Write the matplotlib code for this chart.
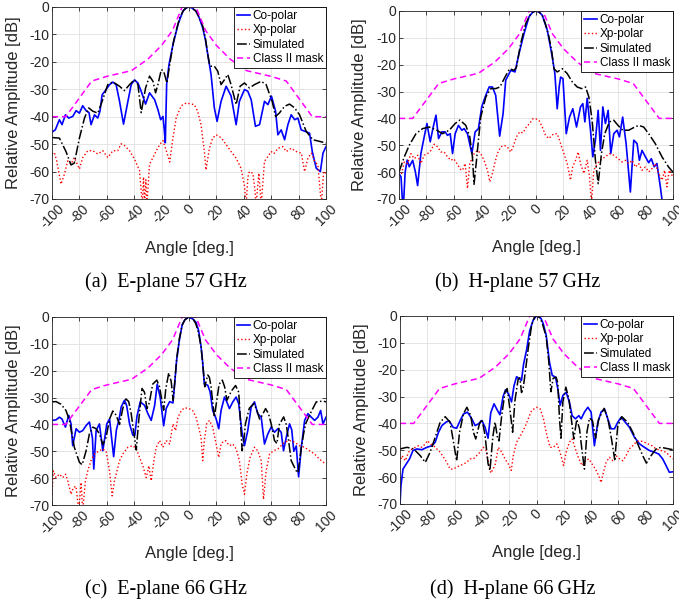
import matplotlib.pyplot as plt

plt.rcParams['font.family'] = ['Liberation Sans', 'DejaVu Sans']
plt.rcParams['axes.unicode_minus'] = False

x_ticks = list(range(-100, 101, 20))
y_ticks = list(range(-70, 1, 10))
series_names = ['Co-polar', 'Xp-polar', 'Simulated', 'Class II mask']
captions = ['(a)  E-plane 57\u2009GHz', '(b)  H-plane 57\u2009GHz',
            '(c)  E-plane 66\u2009GHz', '(d)  H-plane 66\u2009GHz']

# Class II radiation pattern envelope, identical for all cuts
mask_deg = [-100, -90, -71, -60, -42, -30, -20, -12, -5, 5, 12, 20, 30, 42, 60, 71, 90, 100]
mask_db = [-40, -40, -27, -25.3, -23.2, -19, -14, -8.5, 0, 0, -8.5, -14, -19, -23.2, -25.3, -27, -40, -40]

# (a) E-plane, 57 GHz  -- (angle deg, level dB)
e57_co = [(-100, -45.6), (-97.6, -44.8), (-94.6, -41.1), (-92.7, -42.9), (-90.2, -39.3), (-87.8, -40.5),
          (-84.9, -39.9), (-82.4, -37.8), (-80, -38.7), (-77.6, -36), (-75.1, -37.8), (-73, -38.5),
          (-71.5, -42.9), (-69, -39.3), (-66.6, -40.5), (-65, -38), (-63.4, -32), (-60.5, -30.1),
          (-58, -28.3), (-55.6, -27.4), (-53.2, -28.3), (-50.7, -34.4), (-47.8, -42.7), (-44.6, -34.4),
          (-42.2, -28.3), (-39.8, -26.6), (-37.3, -27.7), (-34.9, -30.7), (-31.7, -35.4), (-28.8, -31.3),
          (-25.1, -33.8), (-22.7, -37.4), (-20.7, -41.1), (-19, -39.9), (-18, -45), (-17.3, -49.5),
          (-16.3, -28), (-14.6, -21), (-13, -17), (-11.7, -13.7), (-10, -10.3), (-8, -6.3), (-6, -3.6),
          (-4.4, -1.5), (-2, -0.3), (0, 0), (2, -0.3), (5.1, -1.5), (7.5, -4), (10, -7.6), (12, -12),
          (13.7, -17.3), (16.1, -24.6), (18.5, -36.8), (20.5, -41.7), (23.4, -34.4), (27.1, -28.9),
          (30.7, -32.4), (34.4, -42.9), (36.8, -34.4), (40.5, -30.1), (42.9, -30.7), (45.4, -33.8),
          (48.5, -43.5), (51.5, -42.9), (55.1, -34.4), (57.6, -35.6), (60.2, -32.5), (63.2, -38),
          (64.9, -46.6), (67.3, -44.8), (69.8, -48.4), (72.2, -42.9), (74.6, -39.3), (77.1, -41.1),
          (79.5, -40.5), (81.9, -44.8), (85.1, -45.4), (88, -46), (90, -52.7), (92.9, -58.8),
          (95.9, -60), (97.8, -53.3), (100, -50.9)]
e57_xp = [(-100, -53.6), (-98.3, -53), (-96.6, -56.1), (-93.4, -64.6), (-91, -61), (-88.5, -56.1),
          (-86.1, -57.3), (-83.7, -54.9), (-80, -59.1), (-77.6, -54.9), (-73.9, -52.4), (-70.2, -52.4),
          (-66.6, -53.6), (-62.9, -52.4), (-59.3, -54.9), (-55.6, -52.4), (-52, -52.4), (-49.5, -49.9),
          (-47.1, -50.5), (-43.4, -52.4), (-39.8, -55.4), (-36.1, -59.7), (-34.1, -72), (-33.2, -62),
          (-32.4, -72), (-31.5, -63), (-30.7, -72), (-28.8, -57.3), (-26.3, -54.9), (-23.9, -52.4),
          (-21, -49.9), (-19, -48.7), (-16.6, -52.4), (-14.1, -56.5), (-11.7, -47.6), (-9.3, -40.3),
          (-5.6, -36), (-2, -35), (0, -35.2), (3.9, -35.6), (6.3, -38), (8.8, -42.9), (11.2, -52.7),
          (12.4, -59.4), (14.9, -51.5), (17.3, -47.8), (19.8, -46.6), (22.2, -47.2), (24.6, -48.4),
          (27.1, -50.2), (30.7, -52.7), (34.4, -55.1), (38, -58.8), (40.5, -65.4), (41.7, -72),
          (43, -62), (44.1, -60), (46.6, -60.6), (48, -66), (49, -72), (51, -60.6), (52.7, -72),
          (55.1, -56.3), (57.6, -54.5), (60, -52.7), (62, -53.5), (64.9, -51.5), (68.5, -50.9),
          (71, -52.7), (74.6, -51.5), (78.3, -52.7), (82, -53.3), (84.4, -60), (86.8, -55.1),
          (89.3, -53.3), (91.7, -56.3), (94.1, -57.6), (96.6, -72), (98.3, -60), (100, -60.6)]
e57_sim = [(-100, -47.6), (-94.6, -47.8), (-89.8, -52.7), (-86.1, -57.6), (-83.7, -56.9), (-80, -47.8),
           (-76.3, -40.5), (-73.2, -36.8), (-70.2, -38), (-66.6, -38.7), (-63.4, -34.4), (-59.3, -28.3),
           (-55.6, -27.3), (-50.7, -28.9), (-47.1, -30.5), (-43.4, -28.3), (-39.8, -26.5), (-37.3, -28.3),
           (-34.9, -38.5), (-31.7, -29.5), (-28.8, -25.2), (-26.3, -27.1), (-24.4, -31.3), (-22.7, -28.3),
           (-20.2, -22.8), (-18.5, -23.4), (-16.1, -27.7), (-14.1, -21), (-11.2, -12.4), (-9, -8),
           (-6.8, -3.9), (-4, -1.2), (-2, -0.3), (0, 0), (2, -0.3), (5.1, -1.5), (7.5, -3.8), (10, -6.9),
           (12, -11.5), (13.7, -17.3), (15, -21), (16.1, -21.6), (18.5, -21.6), (21, -23.4), (23.4, -28.3),
           (25.9, -26.5), (28.3, -24.6), (30.7, -28.3), (34.4, -35.6), (37.3, -28.9), (40.5, -27.7),
           (44.1, -29.5), (47.8, -28.3), (52.7, -27.1), (56.3, -28.3), (60.7, -34.4), (63.2, -39.9),
           (65.9, -38.7), (69.8, -36.2), (73.4, -35.4), (77.1, -36.8), (80.7, -39.3), (85.6, -45.4),
           (90.5, -48.4), (95.4, -49), (100, -49.6)]

# (b) H-plane, 57 GHz
h57_co = [(-100, -60.5), (-98.5, -61.8), (-97, -75), (-95.5, -60), (-94, -55.5), (-92.5, -58),
          (-90, -55.6), (-88, -60), (-86.4, -65), (-84, -53.1), (-81.6, -46.9), (-79.6, -41.9),
          (-77.2, -48.7), (-75, -43.2), (-73, -38.8), (-71.1, -47.5), (-68.7, -45), (-66.3, -45),
          (-64.6, -46.3), (-62.6, -45.7), (-60.9, -53.1), (-59, -45.7), (-56.6, -42.6), (-54.1, -44.4),
          (-52.4, -43.8), (-50, -45.7), (-46.8, -53.1), (-44.4, -45), (-42, -43.8), (-39.6, -35.7),
          (-37.1, -32), (-34.2, -28.3), (-31.8, -28.3), (-29.4, -31.4), (-26.5, -46.6), (-24, -38.2),
          (-22.1, -25.8), (-18.4, -22.1), (-15.3, -22.7), (-12.4, -15.9), (-8.7, -8.4), (-5.1, -2.2),
          (-2.5, -0.5), (0, 0), (2.3, -0.4), (4.6, -1.6), (8.3, -7.2), (11.9, -17.1), (13.8, -23.3),
          (15.5, -36.4), (17, -28), (18, -24.6), (19.7, -25.2), (22.1, -45.7), (24.5, -39.5),
          (26.9, -36.4), (29.6, -43.2), (32.5, -35.7), (34.2, -34.5), (35.7, -41.3), (37.4, -32.5),
          (39.8, -44.4), (41.5, -54.3), (43.4, -48.1), (45.4, -37), (47.1, -51.9), (48.8, -35.7),
          (50.7, -41.9), (52.7, -37), (54.6, -53.1), (56.8, -45.7), (59.2, -44.4), (60.9, -46.9),
          (63.3, -39.5), (65.8, -49.4), (68.9, -67.4), (71.4, -48.1), (73.8, -49.4), (75.5, -55.6),
          (77.4, -51.9), (79.9, -54.3), (82.3, -56.5), (84.2, -55), (86.3, -58), (88.3, -56.8),
          (90.8, -65.5), (93.2, -75)]
h57_xp = [(-100, -59.3), (-98.1, -60.5), (-96.1, -56.2), (-93.7, -56.8), (-91.3, -53.1), (-88.8, -55),
          (-86.4, -53.7), (-84, -56.8), (-81.6, -53.7), (-79.1, -53.1), (-76.7, -51.9), (-74.3, -49.6),
          (-71.8, -50.6), (-69.4, -52.5), (-67, -52.5), (-64.6, -54.3), (-62.1, -55.6), (-60, -55),
          (-57.5, -57), (-55, -59), (-53.6, -59.3), (-51.7, -56.8), (-50, -66.1), (-48.3, -56.8),
          (-45.1, -53.1), (-42.7, -51.9), (-40.3, -53.1), (-37.9, -55.6), (-35.4, -59.3), (-33.7, -63.6),
          (-31.8, -60.5), (-29.8, -56.2), (-28.2, -53.1), (-25.7, -50.6), (-23.3, -50), (-20.9, -50.6),
          (-18.4, -52.5), (-16.7, -50.6), (-14.3, -46.9), (-11.9, -45), (-9.5, -45.4), (-7, -43.2),
          (-4.6, -41.9), (-2.2, -40.1), (0, -40.2), (2.2, -40.7), (4.6, -43.2), (7, -46.3), (9.5, -47.5),
          (11.2, -46.5), (13.1, -45.7), (15.5, -45.7), (18, -49.4), (20.4, -53.1), (22.8, -56.8),
          (25.2, -63), (26.8, -58), (28.9, -55.6), (30.8, -52.5), (32.5, -56.8), (35, -60.5),
          (37.4, -55.6), (39.1, -61.8), (40.5, -72), (42.2, -59.3), (44.7, -56.8), (48.3, -55),
          (50.7, -54.3), (53.6, -53.1), (56.8, -53.7), (59.9, -55), (62.9, -56.2), (65.3, -55.6),
          (67.7, -56.8), (70.1, -55.6), (72.6, -58.1), (75, -56.8), (77.4, -59.3), (79.9, -58.1),
          (82.3, -59.9), (84.7, -58.7), (87.1, -56.8), (89.6, -60.5), (92, -63), (93.9, -59.3),
          (95.6, -65.5), (97.3, -59.3), (100, -61.8)]
h57_sim = [(-100, -59.9), (-96.1, -54.3), (-92.5, -50), (-87.6, -45.7), (-82.8, -43.8), (-77.9, -43.2),
           (-73, -44.2), (-68.2, -45.7), (-63.3, -44.4), (-59, -41.9), (-55.5, -40.6), (-51.2, -42.6),
           (-48.3, -46.9), (-46.4, -54.3), (-45.2, -64.5), (-43.5, -56), (-42, -48), (-40.3, -39.5),
           (-36.6, -32), (-33, -28.9), (-29.4, -28.9), (-26.3, -28.3), (-22.6, -24.6), (-19.2, -21.5),
           (-16, -22.1), (-14.3, -21), (-11.2, -12.2), (-7.5, -4.7), (-4, -1.2), (-2, -0.3), (0, 0),
           (2, -0.3), (4.6, -1.6), (7, -5), (9.5, -9.7), (11.5, -15), (13.1, -21.5), (15.5, -22.7),
           (19.2, -21.5), (22.8, -23.3), (26.5, -26.4), (30.1, -28.3), (33.3, -28.9), (36.2, -28.3),
           (38.6, -32), (41, -40.7), (43.4, -55.6), (45.4, -64.3), (47.8, -53.1), (50.2, -45.7),
           (53.6, -41.3), (56.8, -40.7), (59.9, -42.6), (63.3, -44.4), (67.7, -44.4), (71.4, -43.4),
           (75, -42.6), (78.6, -43.2), (82.3, -45.7), (87.1, -49.4), (92, -54.3), (96.8, -58.1),
           (100, -60)]

# (c) E-plane, 66 GHz
e66_co = [(-100, -38.5), (-97.1, -38.3), (-94.6, -37.3), (-92.7, -38), (-90.2, -41), (-87.8, -36.6),
          (-86.1, -39.8), (-84.9, -47.9), (-82.4, -41.6), (-80, -42.9), (-77.6, -42.3), (-75.1, -40.4),
          (-72.7, -39.1), (-70.5, -45), (-69.5, -56.6), (-67.8, -42.3), (-65.4, -39.8), (-62.9, -49.8),
          (-60, -39.8), (-58, -38), (-56.5, -45), (-55, -52), (-53, -42), (-51, -38), (-49.5, -33.5),
          (-47.1, -31), (-45.5, -33), (-43.4, -39.8), (-41, -44), (-39.5, -44), (-38, -37),
          (-35.6, -31.6), (-32.4, -32.9), (-30, -36), (-27.6, -38.5), (-25.1, -33), (-23.2, -25),
          (-21, -30), (-18.5, -40.5), (-16.6, -34), (-14.1, -31.5), (-11.7, -32), (-10.5, -25),
          (-9, -16), (-7, -8.5), (-5, -3), (-3, -1), (0, 0), (3, -0.8), (5.1, -2), (7, -5),
          (8.8, -11), (10, -17), (11.2, -25), (13.7, -25.4), (15.4, -27.9), (17.3, -34.8),
          (19.8, -37.9), (21.7, -41.6), (23.4, -34.8), (25.9, -29.8), (27.6, -31.6), (29.5, -34.1),
          (32, -31.6), (34.4, -29.8), (36.3, -32.3), (38.8, -43.5), (40.5, -47.9), (42.9, -42.3),
          (45.4, -33.5), (47.8, -31.6), (50.2, -36), (52.7, -37.3), (55.1, -47.3), (57.6, -43.5),
          (60, -41), (62.4, -42.9), (64.9, -41.6), (67.3, -42.9), (69, -49.8), (71, -44.8),
          (73.4, -39.8), (75, -42), (76.5, -50), (78.3, -48), (80, -59.5), (82, -48.5),
          (84.4, -38.5), (86.8, -36), (89.3, -37.3), (91.7, -38.5), (94.1, -37.3), (96.1, -34.8),
          (97.8, -39.8), (100, -37.3)]
e66_xp = [(-100, -66), (-99, -57.3), (-97.1, -59.8), (-94.6, -58.5), (-92.2, -59.8), (-90.2, -58.5),
          (-88.5, -61), (-86.1, -66), (-84.4, -63.5), (-82.5, -63), (-80.5, -72), (-78.8, -61.6),
          (-77.6, -72), (-75.6, -61), (-73.9, -57.3), (-71.5, -53.5), (-69, -51), (-65.4, -49.8),
          (-62.9, -49.1), (-60.5, -50), (-58, -57.3), (-56.1, -66.6), (-54.4, -61), (-50.7, -53.5),
          (-48.3, -51), (-44.6, -48.5), (-41, -47.9), (-38.5, -49.1), (-36.1, -52.3), (-33.7, -55.4),
          (-31.2, -59.8), (-29.3, -55.4), (-27.6, -61), (-25.5, -53), (-23.9, -48.5), (-21.5, -46),
          (-19, -48.5), (-16.6, -46), (-14.1, -47.3), (-11.7, -39.8), (-9.8, -42.3), (-8, -37.3),
          (-5.6, -34.8), (-3.2, -33.8), (0, -34.1), (2.7, -34.8), (5.1, -37.3), (7, -41), (8.8, -44.8),
          (10, -53.5), (11.2, -46), (12.9, -39.8), (14.9, -38.5), (17.3, -41), (19.8, -47.3),
          (21.7, -52.3), (23.5, -47), (26.6, -46), (29.5, -47.9), (32, -47.3), (34.4, -49.1),
          (36.8, -53.5), (38.8, -62.3), (40.5, -66), (42.2, -58.5), (44.6, -52.3), (47.8, -48.5),
          (50.2, -49.8), (52.7, -53.5), (54.4, -67.9), (56.3, -57.3), (58.8, -51), (61.7, -49.8),
          (64.9, -49.1), (67.3, -47.9), (69.8, -46.6), (73.4, -46), (77.1, -46.6), (80.7, -47.9),
          (84.4, -48.5), (88, -49.8), (91.7, -51), (94.1, -52.3), (96.6, -53.5), (100, -54.8)]
e66_sim = [(-100, -31.6), (-97, -31.5), (-93.4, -32.5), (-89.8, -34.8), (-87.3, -38.5), (-83.7, -48.5),
           (-80, -54.1), (-78, -55), (-75.1, -49.8), (-72.7, -43.5), (-70.2, -41), (-67.8, -41.6),
           (-65.4, -43.5), (-62.9, -47.5), (-60.5, -44.8), (-58, -38), (-55.6, -35), (-53.2, -36.5),
           (-50.7, -40), (-48.3, -34), (-46, -30.5), (-44, -31.5), (-42.2, -36), (-40, -44),
           (-38.5, -49.5), (-36.6, -38), (-34.3, -26.6), (-32.5, -28), (-30.7, -34.1), (-29, -32),
           (-26.5, -25), (-23.5, -23.5), (-21.5, -26), (-19.5, -32), (-18.5, -34.7), (-17, -27),
           (-14.8, -20.8), (-13, -24), (-11.6, -31), (-10.5, -25), (-9, -15.5), (-7, -8), (-5, -3),
           (-3, -1), (0, 0), (3, -0.8), (5, -2.5), (7, -6), (8.8, -11), (10.3, -19), (11.5, -26),
           (12.5, -24), (13.7, -21.6), (14.9, -22.5), (16.1, -26), (18.5, -37.3), (20, -32), (22, -25),
           (24.3, -23.5), (26, -26), (27.7, -31), (31, -27.5), (34, -25.5), (36.3, -28), (38.8, -49.8),
           (40, -46), (41.2, -39.8), (44, -34), (47.5, -32.2), (50, -35.5), (51.5, -38), (53, -37),
           (55.9, -34.1), (58, -36), (60, -39.8), (62.4, -46), (64.2, -47.1), (66, -40), (69.1, -37.2),
           (71, -40), (72.7, -46), (74.6, -53.5), (78.3, -57.3), (79.6, -58), (82, -48.5),
           (83.7, -43.4), (85.1, -39.8), (88.5, -36), (92.9, -31.6), (97.8, -31.3), (100, -31.6)]

# (d) H-plane, 66 GHz
h66_co = [(-100, -70), (-99.3, -63.2), (-97.8, -57), (-95.4, -55.1), (-93, -53.2), (-90.5, -50.1),
          (-87.6, -49.5), (-84, -49.8), (-80.3, -48.9), (-76.6, -48.3), (-74.2, -47), (-71.8, -43.3),
          (-69.3, -40.8), (-66.2, -39.5), (-64, -39), (-61, -41.5), (-58.5, -41.8), (-56, -39),
          (-53.5, -36.5), (-50.6, -35.8), (-47.4, -38.3), (-45, -40.8), (-42.6, -40.2), (-40.1, -38.9),
          (-37.7, -41.4), (-35.5, -45.5), (-33.5, -36), (-31.1, -32.7), (-29.2, -34.6), (-26.8, -36.8),
          (-24.5, -30), (-22.7, -27.5), (-20.5, -29), (-18.3, -32), (-16.5, -26), (-14.6, -22.6),
          (-12.5, -23.5), (-11, -24), (-9.5, -18), (-7.3, -12.7), (-5, -5.5), (-2.4, -1.5), (0, 0),
          (2, -0.4), (3.4, -1), (5, -3), (7.1, -7.2), (9.5, -17.2), (11.5, -22.1), (13.9, -22.8),
          (15.6, -27.1), (17.3, -33.3), (19.3, -29.6), (21.7, -28.4), (24.1, -32.1), (26.1, -37.1),
          (28.5, -38.3), (31, -37.1), (32.7, -38.3), (35.1, -35.8), (37.6, -34), (40, -35.8),
          (42.4, -48.3), (44.9, -39.6), (47.3, -35.8), (49.8, -34.6), (52.2, -38.3), (54.6, -42),
          (57.1, -42), (59.5, -39.6), (62, -37.7), (65.1, -39.6), (68, -41.4), (71.7, -45.1),
          (75.4, -47.6), (79, -48.9), (82.7, -50.1), (86.3, -50.7), (89.5, -51.4), (92.4, -53.2),
          (94.9, -55.7), (97.3, -58.2), (100, -58)]
h66_xp = [(-100, -54.5), (-98.5, -52), (-96.1, -53.9), (-93.7, -50.7), (-91.2, -49.5), (-88.8, -48.9),
          (-86.4, -48.3), (-84, -48.9), (-81.5, -47.6), (-79.8, -46.4), (-77.9, -47.6), (-75.4, -48.3),
          (-73, -49.5), (-70.6, -50.7), (-68.1, -52.6), (-65.7, -54.5), (-63.3, -57), (-60.8, -57),
          (-58.9, -56.3), (-55.9, -55.7), (-53.5, -55.1), (-51.1, -54.5), (-48.7, -53.2), (-46.2, -53.2),
          (-43.8, -52), (-41.4, -50.7), (-39, -48.9), (-37, -50), (-35, -55), (-33.5, -58.5),
          (-30.4, -55.7), (-28, -48.9), (-25.5, -50.7), (-23.1, -53.2), (-20.7, -55.1), (-18.5, -57.5),
          (-17, -52), (-14.6, -47), (-11.7, -44.5), (-8.5, -41.4), (-6.1, -38.3), (-3.6, -35.2),
          (0, -34), (2.7, -34.6), (5.1, -38.3), (7.6, -44.5), (10, -48.9), (12.4, -48.9), (14.9, -47.6),
          (17.3, -50.7), (19.8, -55.7), (21.7, -50.7), (24.1, -47), (26.1, -45.8), (28.5, -49.5),
          (31, -53.2), (33.4, -55.7), (35.9, -53.9), (38.3, -53.2), (40.7, -55.1), (43.2, -57),
          (45.6, -59.5), (47.3, -62), (49, -58.2), (51, -54.5), (53.4, -52.6), (55.9, -53.9),
          (58.3, -52), (60.7, -53.2), (63.2, -53.9), (65.6, -52), (68, -49.5), (70.5, -48.3),
          (72.9, -47), (75.4, -46.4), (79, -47), (81.5, -47.6), (84.6, -48.3), (87.6, -49.5),
          (91.2, -50.1), (94.9, -50.7), (97.3, -52), (100, -53.2)]
h66_sim = [(-100, -49.5), (-94.9, -48.9), (-90, -49.5), (-85.2, -52), (-81.5, -54.5), (-77.9, -50.7),
           (-74.2, -45.1), (-70.6, -39.6), (-66.9, -37.5), (-63.3, -39.6), (-60.8, -47), (-58.5, -54),
           (-56.4, -43.3), (-53.5, -36.4), (-51, -34), (-48.2, -37.1), (-46.2, -43.3), (-44.5, -45.8),
           (-41.8, -40.2), (-39.9, -38.5), (-37.7, -44.5), (-35.5, -55), (-34.1, -57.5), (-32, -45),
           (-30.4, -39.5), (-28.5, -45.5), (-27.5, -46.5), (-25.5, -37.1), (-23.1, -28.4), (-21.5, -27),
           (-19.5, -34.6), (-17.5, -43.3), (-15.8, -31.5), (-13.4, -23.4), (-12.2, -23), (-11, -28.5),
           (-9.8, -27), (-8.5, -22), (-6.1, -12.2), (-3.6, -3.5), (-1.5, -0.4), (0, 0), (2, -0.4),
           (4, -2.3), (7.1, -7.8), (9, -17), (10.5, -28.2), (12.2, -23.2), (14.4, -22.8), (15.6, -25),
           (16.8, -38), (17.9, -45.5), (19.3, -32), (21.5, -26.5), (23.7, -30.8), (26.1, -40.8),
           (27.3, -45.8), (29.5, -38.5), (31.5, -42), (33.3, -50), (35.1, -57), (37, -43), (38.8, -38),
           (41, -39), (43.3, -45.5), (45.5, -38.5), (49.5, -34.4), (52.2, -38), (55, -46), (57.3, -53.5),
           (59.5, -41), (62.5, -37.5), (66.8, -39.6), (70.5, -43.3), (74.1, -47.6), (77.8, -52),
           (80.5, -54.8), (83.9, -52), (87.6, -49.5), (91.2, -48.9), (100, -49.8)]

panels = [
    # axes rect (fig fraction), data, caption centre
    ([0.0766, 0.6700, 0.4035, 0.3184], e57_co, e57_xp, e57_sim, captions[0], (0.2445, 0.532)),
    ([0.5876, 0.6700, 0.4035, 0.3118], h57_co, h57_xp, h57_sim, captions[1], (0.762, 0.532)),
    ([0.0766, 0.1625, 0.4035, 0.3118], e66_co, e66_xp, e66_sim, captions[2], (0.2445, 0.023)),
    ([0.5891, 0.1642, 0.4021, 0.3118], h66_co, h66_xp, h66_sim, captions[3], (0.755, 0.023)),
]

fig = plt.figure(figsize=(6.79, 6.03), dpi=100)

for rect, co, xp, sim, cap, cap_xy in panels:
    ax = fig.add_axes(rect)
    co_deg, co_db = zip(*co)
    xp_deg, xp_db = zip(*xp)
    sim_deg, sim_db = zip(*sim)
    ax.plot(co_deg, co_db, color='#0000ff', lw=1.2, label=series_names[0])
    ax.plot(xp_deg, xp_db, color='#ff0000', lw=1.0, ls=':', label=series_names[1])
    ax.plot(sim_deg, sim_db, color='k', lw=1.1, ls='-.', label=series_names[2])
    ax.plot(mask_deg, mask_db, color='#ff00ff', lw=1.1, ls=(0, (4, 2.5)), label=series_names[3])

    ax.set_xlim(-100, 100)
    ax.set_ylim(-70, 0)
    ax.set_xticks(x_ticks)
    ax.set_yticks(y_ticks)
    ax.set_xticklabels([str(t) for t in x_ticks], rotation=45, ha='center', va='top')
    ax.set_yticklabels([str(t) for t in y_ticks])
    ax.tick_params(direction='in', length=3, width=0.6, labelsize=10, colors='#262626',
                   top=True, right=True, pad=2)
    ax.grid(True, color='#e0e0e0', lw=0.6)
    ax.set_axisbelow(True)
    for sp in ax.spines.values():
        sp.set_color('#262626')
        sp.set_linewidth(0.6)

    ax.set_xlabel('Angle [deg.]', fontsize=12, color='#262626')
    ax.set_ylabel('Relative Amplitude [dB]', fontsize=12, color='#262626')
    ax.xaxis.set_label_coords(0.5, -0.22)
    ax.yaxis.set_label_coords(-0.115, 0.5)

    leg = ax.legend(loc='upper right', borderaxespad=0, fontsize=8.5, handlelength=1.1,
                    handletextpad=0.2, borderpad=0.25, labelspacing=0.2, fancybox=False,
                    framealpha=1, edgecolor='k')
    leg.get_frame().set_linewidth(0.6)

    fig.text(cap_xy[0], cap_xy[1], cap, family='Liberation Serif', fontsize=14.5,
             ha='center', va='center')

fig.savefig('out.png', dpi=100)
